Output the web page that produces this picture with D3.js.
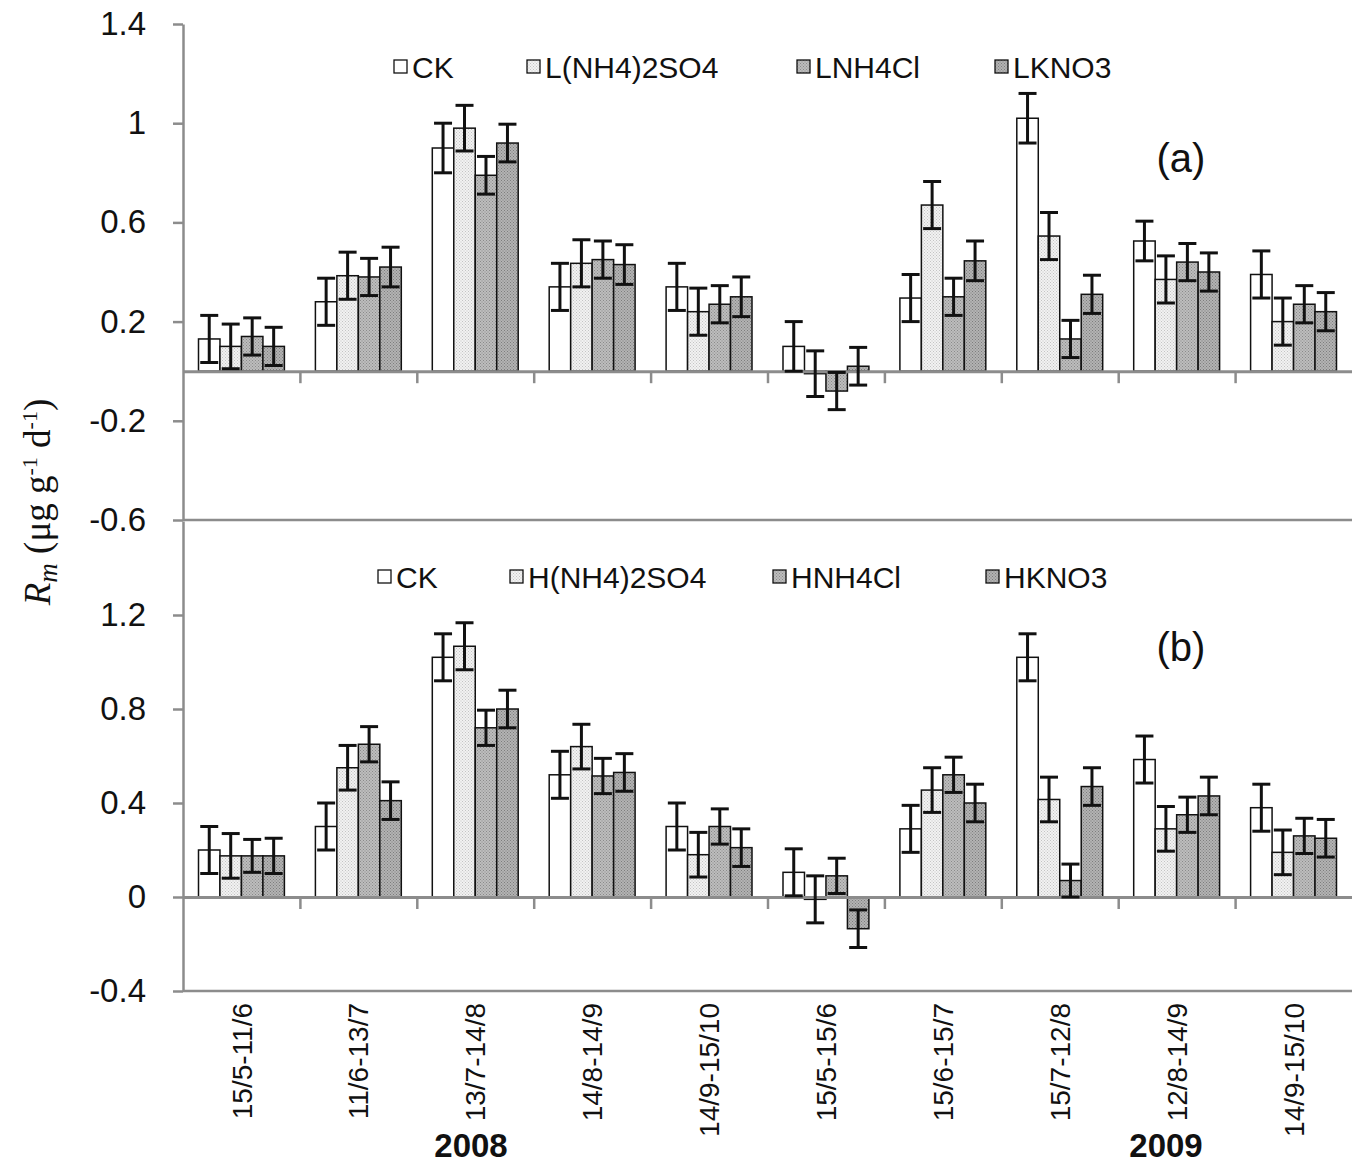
<!DOCTYPE html>
<html>
<head>
<meta charset="UTF-8">
<title>Rm chart</title>
<script src="https://d3js.org/d3.v7.min.js"></script>
<style>
  body { margin: 0; background: #fff; }
</style>
</head>
<body>
<div id="chart"></div>
<script>
// categories (sampling periods)
var periods = ["15/5-11/6", "11/6-13/7", "13/7-14/8", "14/8-14/9", "14/9-15/10",
               "15/5-15/6", "15/6-15/7", "15/7-12/8", "12/8-14/9", "14/9-15/10 "];
var years = ["2008", "2009"];

// panel (a) - low N
var namesA = ["CK", "L(NH4)2SO4", "LNH4Cl", "LKNO3"];
var ckA   = [0.13, 0.28, 0.90, 0.34, 0.34, 0.10, 0.295, 1.02, 0.525, 0.39];
var l2A   = [0.10, 0.385, 0.98, 0.435, 0.24, -0.01, 0.67, 0.545, 0.37, 0.20];
var l3A   = [0.14, 0.38, 0.79, 0.45, 0.27, -0.08, 0.30, 0.13, 0.44, 0.27];
var l4A   = [0.10, 0.42, 0.92, 0.43, 0.30, 0.02, 0.445, 0.31, 0.40, 0.24];
var ckAErr = [0.095, 0.095, 0.10, 0.095, 0.095, 0.10, 0.095, 0.10, 0.08, 0.095];
var l2AErr = [0.09, 0.095, 0.092, 0.095, 0.095, 0.092, 0.095, 0.095, 0.095, 0.095];
var l3AErr = [0.075, 0.075, 0.076, 0.075, 0.075, 0.075, 0.075, 0.075, 0.075, 0.075];
var l4AErr = [0.077, 0.08, 0.076, 0.08, 0.08, 0.076, 0.08, 0.077, 0.077, 0.077];

// panel (b) - high N
var namesB = ["CK", "H(NH4)2SO4", "HNH4Cl", "HKNO3"];
var ckB   = [0.20, 0.30, 1.02, 0.52, 0.30, 0.105, 0.29, 1.02, 0.585, 0.38];
var h2B   = [0.175, 0.55, 1.067, 0.64, 0.18, -0.01, 0.455, 0.415, 0.29, 0.19];
var h3B   = [0.175, 0.65, 0.72, 0.515, 0.30, 0.09, 0.52, 0.07, 0.35, 0.26];
var h4B   = [0.175, 0.41, 0.80, 0.53, 0.21, -0.135, 0.40, 0.47, 0.43, 0.25];
var ckBErr = [0.10, 0.10, 0.10, 0.10, 0.10, 0.10, 0.10, 0.10, 0.10, 0.10];
var h2BErr = [0.095, 0.095, 0.10, 0.095, 0.095, 0.10, 0.095, 0.095, 0.095, 0.095];
var h3BErr = [0.07, 0.075, 0.075, 0.075, 0.075, 0.075, 0.075, 0.07, 0.075, 0.075];
var h4BErr = [0.075, 0.08, 0.08, 0.08, 0.08, 0.08, 0.08, 0.08, 0.08, 0.08];

// tick values for each panel
var ticksA = [-0.6, -0.2, 0.2, 0.6, 1.0, 1.4];
var ticksB = [-0.4, 0, 0.4, 0.8, 1.2];

var width = 1352, height = 1168;
var left = 183, right = 1352;
var axisGrey = "#8c8c8c";
var sans = "Arial, 'Liberation Sans', sans-serif";

var svg = d3.select("#chart").append("svg")
    .attr("width", width)
    .attr("height", height)
    .style("font-family", sans);

// fill patterns for the bars
var defs = svg.append("defs");
function makePattern(id, bg, dot) {
    var p = defs.append("pattern")
        .attr("id", id)
        .attr("width", 3).attr("height", 3)
        .attr("patternUnits", "userSpaceOnUse");
    p.append("rect").attr("width", 3).attr("height", 3).attr("fill", bg);
    p.append("rect").attr("x", 0).attr("y", 0).attr("width", 1).attr("height", 1).attr("fill", dot);
    p.append("rect").attr("x", 1.5).attr("y", 1.5).attr("width", 1).attr("height", 1).attr("fill", dot);
}
makePattern("pLight", "#f2f2f2", "#c4c4c4");
makePattern("pMid", "#bdbdbd", "#8a8a8a");
makePattern("pDark", "#b3b3b3", "#7d7d7d");
var fills = ["#ffffff", "url(#pLight)", "url(#pMid)", "url(#pDark)"];

// x scales shared by both panels
var x0 = d3.scaleBand().domain(periods).range([left, right]);
var x1 = d3.scaleBand().domain([0, 1, 2, 3])
    .range([15.5, x0.bandwidth() - 15.5]);
var xIdx = d3.scaleLinear().domain([0, periods.length]).range([left, right]);

function drawPanel(cfg) {
    var y = d3.scaleLinear().domain(cfg.domain).range(cfg.range);
    var g = svg.append("g");

    // y axis
    var yAxis = d3.axisLeft(y)
        .tickValues(cfg.ticks)
        .tickSize(10)
        .tickSizeOuter(0)
        .tickFormat(function(d){ return String(+d.toFixed(1)); });
    var ya = g.append("g")
        .attr("transform", "translate(" + left + ",0)")
        .call(yAxis);
    ya.attr("font-family", null).attr("font-size", null);
    ya.select(".domain").attr("stroke", axisGrey).attr("stroke-width", 2.5);
    ya.selectAll(".tick line").attr("stroke", axisGrey).attr("stroke-width", 2.5);
    ya.selectAll(".tick text")
        .attr("x", -37)
        .attr("font-size", "33px")
        .attr("fill", "#111");

    // bottom border line of the panel
    g.append("line")
        .attr("x1", left).attr("x2", right)
        .attr("y1", y(cfg.domain[0])).attr("y2", y(cfg.domain[0]))
        .attr("stroke", axisGrey).attr("stroke-width", 2.5);

    // bars
    var rows = [];
    periods.forEach(function(p, i) {
        cfg.series.forEach(function(s, j) {
            rows.push({p: p, j: j, v: s[i], e: cfg.errs[j][i]});
        });
    });
    g.selectAll("rect.bar").data(rows).enter().append("rect")
        .attr("class", "bar")
        .attr("x", function(d){ return x0(d.p) + x1(d.j); })
        .attr("width", x1.bandwidth())
        .attr("y", function(d){ return y(Math.max(0, d.v)); })
        .attr("height", function(d){ return Math.abs(y(d.v) - y(0)); })
        .attr("fill", function(d){ return fills[d.j]; })
        .attr("stroke", "#111")
        .attr("stroke-width", 1.5);

    // zero line with ticks at group boundaries
    var zAxis = d3.axisBottom(xIdx)
        .tickValues(d3.range(1, periods.length))
        .tickSize(12)
        .tickSizeOuter(0)
        .tickFormat("");
    var za = g.append("g")
        .attr("transform", "translate(0," + y(0) + ")")
        .call(zAxis);
    za.select(".domain").attr("stroke", axisGrey).attr("stroke-width", 3);
    za.selectAll(".tick line").attr("stroke", axisGrey).attr("stroke-width", 2.5);

    // error bars
    var cap = 9;
    var cx = function(d){ return x0(d.p) + x1(d.j) + x1.bandwidth() / 2; };
    var eb = g.selectAll("g.err").data(rows).enter().append("g").attr("class", "err")
        .attr("stroke", "#111").attr("stroke-width", 3);
    eb.append("line")
        .attr("x1", cx).attr("x2", cx)
        .attr("y1", function(d){ return y(d.v + d.e); })
        .attr("y2", function(d){ return y(d.v - d.e); });
    eb.append("line")
        .attr("x1", function(d){ return cx(d) - cap; })
        .attr("x2", function(d){ return cx(d) + cap; })
        .attr("y1", function(d){ return y(d.v + d.e); })
        .attr("y2", function(d){ return y(d.v + d.e); });
    eb.append("line")
        .attr("x1", function(d){ return cx(d) - cap; })
        .attr("x2", function(d){ return cx(d) + cap; })
        .attr("y1", function(d){ return y(d.v - d.e); })
        .attr("y2", function(d){ return y(d.v - d.e); });

    // legend
    var lg = g.selectAll("g.leg").data(cfg.names).enter().append("g").attr("class", "leg")
        .attr("transform", function(d, i){ return "translate(" + cfg.legX[i] + "," + cfg.legY + ")"; });
    lg.append("rect")
        .attr("x", 0).attr("y", -18)
        .attr("width", 13).attr("height", 13)
        .attr("fill", function(d, i){ return fills[i]; })
        .attr("stroke", "#111").attr("stroke-width", 1.3);
    lg.append("text")
        .attr("x", 18).attr("y", 0)
        .attr("font-size", "30px")
        .attr("fill", "#111")
        .text(function(d){ return d; });

    // panel tag
    g.append("text")
        .attr("x", cfg.tagX).attr("y", cfg.tagY)
        .attr("text-anchor", "middle")
        .attr("font-size", "40px")
        .attr("fill", "#111")
        .text(cfg.tag);
}

drawPanel({
    domain: [-0.6, 1.4], range: [520, 24], ticks: ticksA,
    series: [ckA, l2A, l3A, l4A], errs: [ckAErr, l2AErr, l3AErr, l4AErr],
    names: namesA, legX: [394, 527, 797, 995], legY: 78,
    tag: "(a)", tagX: 1181, tagY: 172
});
drawPanel({
    domain: [-0.4, 1.6], range: [991, 521], ticks: ticksB,
    series: [ckB, h2B, h3B, h4B], errs: [ckBErr, h2BErr, h3BErr, h4BErr],
    names: namesB, legX: [378, 510, 773, 986], legY: 588,
    tag: "(b)", tagX: 1181, tagY: 661
});

// x labels, rotated
svg.append("g").selectAll("text").data(periods).enter().append("text")
    .attr("transform", function(d){
        return "translate(" + (x0(d) + x0.bandwidth() / 2) + ",1003) rotate(-90)";
    })
    .attr("dy", "0.36em")
    .attr("text-anchor", "end")
    .attr("font-size", "28px")
    .attr("fill", "#111")
    .text(function(d){ return d.trim(); });

// year labels
svg.append("g").selectAll("text").data(years).enter().append("text")
    .attr("x", function(d, i){ return i === 0 ? 471 : 1166; })
    .attr("y", 1157)
    .attr("text-anchor", "middle")
    .attr("font-size", "33px")
    .attr("font-weight", "bold")
    .attr("fill", "#111")
    .text(function(d){ return d; });

// y axis title
var yt = svg.append("text")
    .attr("transform", "translate(50,502) rotate(-90)")
    .attr("text-anchor", "middle")
    .style("font-family", "'Liberation Serif', 'Times New Roman', serif")
    .attr("font-size", "37px")
    .attr("fill", "#111");
yt.append("tspan").attr("font-style", "italic").text("R");
yt.append("tspan").attr("font-style", "italic").attr("font-size", "27px").attr("dy", 7).text("m");
yt.append("tspan").attr("dy", -7).text(" (μg g");
yt.append("tspan").attr("font-size", "22px").attr("dy", -13).text("-1");
yt.append("tspan").attr("dy", 13).text(" d");
yt.append("tspan").attr("font-size", "22px").attr("dy", -13).text("-1");
yt.append("tspan").attr("dy", 13).text(")");
</script>
</body>
</html>
